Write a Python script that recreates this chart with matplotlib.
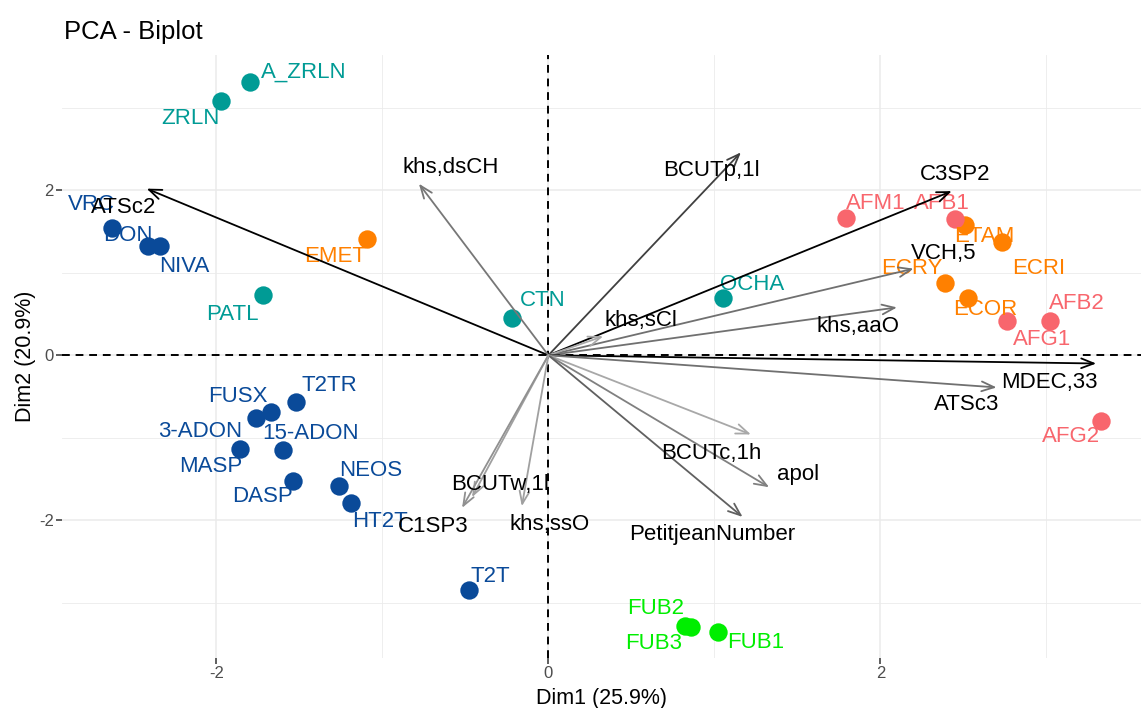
import matplotlib
matplotlib.use("Agg")
import matplotlib.pyplot as plt
import numpy as np

plt.rcParams['font.family'] = ['Liberation Sans', 'DejaVu Sans']
plt.rcParams['axes.unicode_minus'] = False

# individuals (Dim1, Dim2) grouped by colour
ind_names = ["A_ZRLN", "ZRLN", "PATL", "CTN", "OCHA",
             "VRC", "DON", "NIVA", "T2TR", "FUSX", "3-ADON", "MASP", "15-ADON",
             "DASP", "NEOS", "HT2T", "T2T",
             "FUB2", "FUB3", "FUB1",
             "EMET", "ETAM", "ECRI", "ECRY", "ECOR",
             "AFM1", "AFB1", "AFB2", "AFG1", "AFG2"]
ind_x = [-1.80, -1.97, -1.72, -0.22, 1.05,
         -2.63, -2.41, -2.34, -1.52, -1.67, -1.76, -1.86, -1.60,
         -1.54, -1.26, -1.19, -0.48,
         0.82, 0.86, 1.02,
         -1.09, 2.51, 2.73, 2.39, 2.53,
         1.79, 2.45, 3.02, 2.76, 3.33]
ind_y = [3.31, 3.08, 0.73, 0.45, 0.70,
         1.54, 1.33, 1.32, -0.57, -0.69, -0.76, -1.14, -1.15,
         -1.52, -1.59, -1.79, -2.85,
         -3.28, -3.30, -3.35,
         1.41, 1.58, 1.37, 0.87, 0.69,
         1.67, 1.65, 0.42, 0.42, -0.80]
ind_group = ["teal"] * 5 + ["blue"] * 12 + ["green"] * 3 + ["orange"] * 5 + ["red"] * 5

# variables (arrow tips)
var_names = ["ATSc2", "khs,dsCH", "BCUTp,1l", "C3SP2", "VCH,5", "khs,aaO",
             "khs,sCl", "MDEC,33", "ATSc3", "BCUTc,1h", "apol",
             "PetitjeanNumber", "BCUTw,1l", "C1SP3", "khs,ssO"]
var_x = [-2.42, -0.78, 1.16, 2.43, 2.20, 2.10, 0.33, 3.30, 2.70, 1.22,
         1.33, 1.17, -0.46, -0.52, -0.16]
var_y = [2.02, 2.08, 2.46, 1.99, 1.05, 0.58, 0.23, -0.10, -0.39, -0.96,
         -1.60, -1.96, -1.72, -1.85, -1.83]
var_shade = ["#000000", "#777777", "#404040", "#000000", "#707070", "#707070",
             "#a8a8a8", "#000000", "#707070", "#a8a8a8", "#808080",
             "#606060", "#a0a0a0", "#909090", "#a0a0a0"]

colors = {"teal": "#009B95", "blue": "#0A4A99", "green": "#00EE00",
          "orange": "#FF8000", "red": "#F8666D"}

# label offsets in pixels (dx, dy up)
ind_off = [(54, 10), (-31, -17), (-30, -19), (31, 18), (29, 13),
           (-20, 24), (-20, 10), (24, -20), (33, 17), (-33, 16), (-56, -14),
           (-29, -17), (28, 17), (-30, -16), (31, 16), (29, -19), (22, 14),
           (-29, 17), (-38, -16), (38, -11),
           (-32, -18), (19, -12), (37, -26), (-33, 15), (17, -11),
           (30, 14), (-13, 16), (27, 17), (36, -19), (-30, -15)]
var_off = [(-23, -19), (32, 16), (-30, -18), (3, 17), (30, 15), (-39, -19),
           (38, 16), (-47, -19), (-30, -17), (-40, -19), (29, 13),
           (-30, -18), (28, 13), (-29, -19), (28, -18)]
segment_labels = ["VRC", "ECRI"]  # labels that ggrepel connected with a segment

fig = plt.figure(figsize=(11.41, 7.08), dpi=100)
ax = fig.add_axes([62 / 1141, 50 / 708, 1 - 62 / 1141, (658 - 55) / 708])

ax.set_xticks([-2, 0, 2])
ax.set_yticks([-2, 0, 2])
ax.set_xticks([-3, -1, 1, 3], minor=True)
ax.set_yticks([-3, -1, 1, 3], minor=True)
ax.set_xlim(-2.93, 3.57)
ax.set_ylim(-3.67, 3.64)
ax.grid(which="major", color="#EBEBEB", lw=1.1)
ax.grid(which="minor", color="#EBEBEB", lw=0.6)
ax.set_axisbelow(True)
for s in ax.spines.values():
    s.set_visible(False)
ax.tick_params(which="major", length=4, width=1.1, color="#333333",
               labelsize=12, labelcolor="#4D4D4D", pad=2)
ax.tick_params(which="minor", length=0)

ax.axhline(0, color="black", ls=(0, (4, 3)), lw=1.4, zorder=1)
ax.axvline(0, color="black", ls=(0, (4, 3)), lw=1.4, zorder=1)

for i, name in enumerate(ind_names):
    c = colors[ind_group[i]]
    ax.scatter(ind_x[i], ind_y[i], s=175, color=c, zorder=3, linewidths=0)
    props = None
    if name in segment_labels:
        props = dict(arrowstyle="-", color=c, lw=0.8, shrinkA=10, shrinkB=0)
    ax.annotate(name, (ind_x[i], ind_y[i]), xytext=ind_off[i],
                textcoords="offset pixels", ha="center", va="center",
                fontsize=16, color=c, zorder=4, arrowprops=props)

for i, name in enumerate(var_names):
    ax.annotate("", xy=(var_x[i], var_y[i]), xytext=(0, 0),
                arrowprops=dict(arrowstyle="->,head_length=0.9,head_width=0.35",
                                color=var_shade[i], lw=1.3, shrinkA=0, shrinkB=0,
                                mutation_scale=10),
                zorder=5)
    ax.annotate(name, (var_x[i], var_y[i]), xytext=var_off[i],
                textcoords="offset pixels", ha="center", va="center",
                fontsize=16, color="black", zorder=6)

ax.set_xlabel("Dim1 (25.9%)", fontsize=15.5, labelpad=5)
ax.set_ylabel("Dim2 (20.9%)", fontsize=15.5, labelpad=2)
fig.text(64 / 1141, 1 - 32 / 708, "PCA - Biplot", fontsize=18.5, va="center", ha="left")

fig.savefig("out.png", dpi=100)
